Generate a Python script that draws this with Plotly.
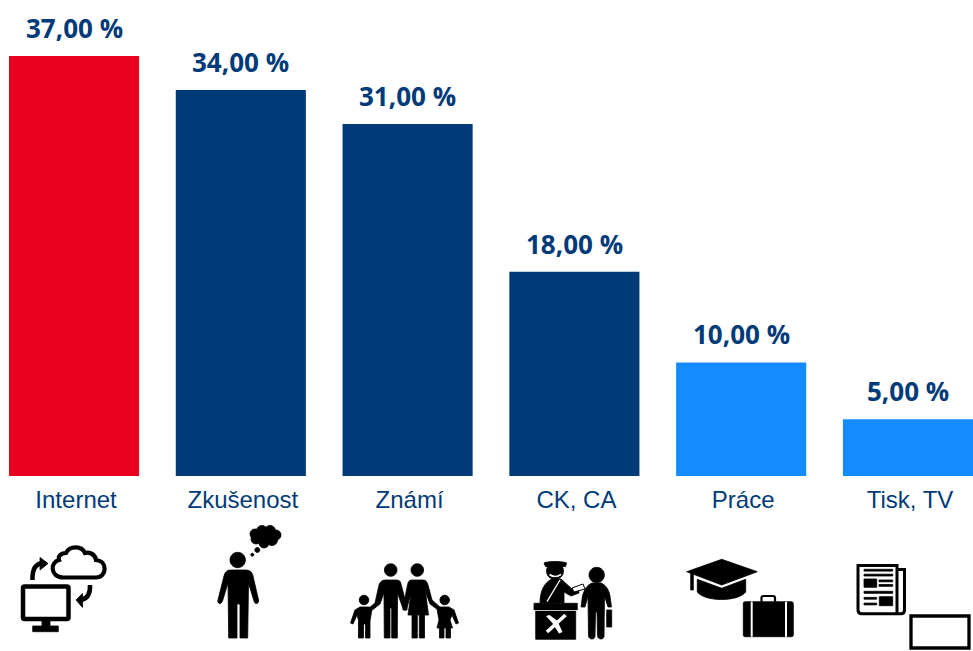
import re
import plotly.graph_objects as go

categories = ["Internet", "Zkušenost", "Známí", "CK, CA", "Práce", "Tisk, TV"]
values = [37, 34, 31, 18, 10, 5]
bar_colors = ["#E8001E", "#003A78", "#003A78", "#003A78", "#148CFF", "#148CFF"]
labels = [f"{v:.2f} %".replace(".", ",") for v in values]

W, H = 973, 651
L, B = 9, 476  # plot area edges in px


def P(d):
    """convert an icon outline written in page px into paper coordinates"""
    out, is_x = [], True
    for tok in re.findall(r"[A-Za-z]|-?\d+\.?\d*", d):
        if tok.isalpha():
            out.append(tok)
            is_x = True
        else:
            v = float(tok)
            out.append(f"{(v - L) / (W - L):.5f}" if is_x else f"{(B - v) / B:.5f}")
            is_x = not is_x
    return " ".join(out)


shapes = []


def fill(d, color="black"):
    shapes.append(dict(type="path", xref="paper", yref="paper", path=P(d), fillcolor=color,
                       line=dict(width=0.8 if color == "black" else 0, color=color), layer="above"))


def stroke(d, width, color="black", fc="rgba(0,0,0,0)"):
    shapes.append(dict(type="path", xref="paper", yref="paper", path=P(d),
                       fillcolor=fc, line=dict(width=width, color=color), layer="above"))


def circle(cx, cy, r, color="black"):
    k = 0.5523 * r
    fill(f"M {cx-r} {cy} C {cx-r} {cy-k} {cx-k} {cy-r} {cx} {cy-r} "
         f"C {cx+k} {cy-r} {cx+r} {cy-k} {cx+r} {cy} "
         f"C {cx+r} {cy+k} {cx+k} {cy+r} {cx} {cy+r} "
         f"C {cx-k} {cy+r} {cx-r} {cy+k} {cx-r} {cy} Z", color)


def rect(x0, y0, x1, y1, color="black"):
    fill(f"M {x0} {y0} L {x1} {y0} L {x1} {y1} L {x0} {y1} Z", color)


# --- Internet icon
stroke("M 23 588 Q 23 586.5 24.5 586.5 L 67 586.5 Q 68.5 586.5 68.5 588 L 68.5 617.5 Q 68.5 619 67 619 L 24.5 619 Q 23 619 23 617.5 Z", 4.5)
rect(42, 621, 50, 627)
rect(32.7, 626, 58.3, 631.7)
stroke("M 63 577.5 L 96 577.5 C 107 577.5 108 561 96 560 C 95 553 88 552 85 553 C 82 546 70 545 66 553 C 60 553 58 557 59 560 C 50 562 50 577 63 577.5 Z", 4.2)
stroke("M 32.5 580 C 32 568 36 564 42 563", 4.5)
fill("M 40 557.5 L 48 563.5 L 40 570 Z")
stroke("M 90 585 C 90.5 595 86 599 81 600", 4.5)
fill("M 82.5 593.5 L 76 600 L 82.5 607.5 Z")

# --- Zkušenost icon
circle(237.7, 560, 7.7)
fill("M 231 570 L 245 570 C 250 570 252 572 253 576 L 258.5 600 C 259 604 255 605 254 601 L 248.5 583 L 247.7 638 L 240 638 L 240 604 L 237 604 L 237 638 L 228.7 638 L 228 583 L 222.5 601 C 221 605 217 604 218 600 L 224 576 C 225 572 227 570 231 570 Z")
for cx, cy, r in [(255, 534, 5), (262, 531, 5.5), (270, 531, 5.5), (276, 535, 5), (272, 540, 5.5),
                  (264, 543, 5), (256, 539, 5), (265, 536, 7)]:
    circle(cx, cy, r)
circle(257.3, 550, 2.5)
circle(252.3, 554.7, 1.5)

# --- Známí icon
for cx, cy, r in [(390.7, 570, 6.3), (417.3, 570, 6.3), (364, 600, 4.8), (444.7, 600, 4.8)]:
    circle(cx, cy, r)
fill("M 385 580 L 396 580 C 399 580 400.5 581 401 584 L 406.5 605 L 407 610 L 403.5 610 L 397.5 593 L 397.3 638 L 391.7 638 L 391.7 608 L 390 608 L 390 638 L 384.3 638 L 384 593 L 380 604 L 371 611 L 369 608 L 375 603 L 379 585 C 380 582 382 580 385 580 Z")
fill("M 412 580 L 423 580 C 426 580 427 582 428 585 L 432 600 L 441 608 L 439.5 611 L 430 604 L 425.5 592 L 428.5 615 L 424.5 615 L 424.5 638 L 419.3 638 L 419.3 615 L 417.3 615 L 417.3 638 L 412 638 L 412 615 L 408 615 L 411 593 L 406.5 610 L 403 610 L 403.5 605 L 407.5 585 C 408 582 409 580 412 580 Z")
fill("M 360 607 L 369 607 L 372 609 L 370 621 L 370 638 L 365.5 638 L 365.5 624 L 363.5 624 L 363.5 638 L 358.5 638 L 358.5 620 L 357 615 L 353 624 L 350.5 623 L 355 610 Z")
fill("M 440 607 L 449 607 L 454 610 L 458.5 623 L 456 624 L 452 615 L 450 620 L 452.5 628 L 450.5 628 L 450.5 638 L 446 638 L 446 628 L 444 628 L 444 638 L 439.5 638 L 439.5 628 L 437 628 L 439 620 L 437 609 Z")

# --- CK, CA icon
circle(555, 571, 8.5)
fill("M 544 563 C 548 561 562 561 566.7 563 L 565.5 566.5 L 545.5 566.5 Z")
stroke("M 549.5 574.5 Q 555 578.5 561 574.5", 1.6, "white")
fill("M 540 603 C 540 590 545 582 552 579 L 561 579 L 572 589 L 578 587 L 579 593 L 571 596 L 564 592 L 564 603 Z")
stroke("M 547 601.6 L 560 580", 1.3, "white")
stroke("M 572 588 L 583 584 L 585 589 L 574 592 Z", 1, "black", "white")
rect(534, 603.3, 577.3, 610)
rect(535.7, 610, 575.7, 639.3)
rect(534, 610, 577.3, 610.8, "white")
stroke("M 547 632 L 565.5 615", 3.6, "white")
fill("M 546 616 L 549.5 615 L 559 622 L 555 626 Z", "white")
fill("M 562.5 632 L 559 633.5 L 553 624 L 557 620 Z", "white")
circle(596.7, 575, 7.7)
fill("M 592 583 L 601 583 C 606 585 609 590 610 596 L 611.5 607 L 608 607 L 604.5 596 L 604 636 C 604 640 598 640 597.5 636 L 597 612 L 595.5 612 L 595 636 C 595 640 589 640 588.5 636 L 588 596 L 585 607 L 581 607 L 582.5 596 C 584 590 587 585 592 583 Z")
rect(606.7, 610, 611.7, 627)

# --- Práce icon
fill("M 686.7 571.7 L 721.7 559.3 L 757.3 571.7 L 721.7 585 Z")
fill("M 697.3 579.3 L 721.7 588.3 L 745.7 579.3 L 745.7 592 C 738 602 705 602 697.3 592 Z")
rect(690.7, 573, 693.3, 590)
stroke("M 761.5 601.7 L 761.5 598 Q 761.5 596 763.5 596 L 773 596 Q 775 596 775 598 L 775 601.7", 2.2)
fill("M 745 601.7 L 791.5 601.7 Q 793.3 601.7 793.3 603.5 L 793.3 635 Q 793.3 636.7 791.5 636.7 L 745 636.7 Q 743.3 636.7 743.3 635 L 743.3 603.5 Q 743.3 601.7 745 601.7 Z")
rect(750.7, 601.7, 752.7, 636.7, "white")
rect(785, 601.7, 787, 636.7, "white")

# --- Tisk, TV icon
stroke("M 897 569.5 L 904.5 569.5 L 904.5 610 Q 904.5 613.7 901 613.7 L 862 613.7 Q 858 613.7 858 610 L 858 565.5 L 897 565.5 L 897 613.7", 3)
for x0, y0, x1, y1 in [(864, 569.3, 892.7, 571.1), (864, 574.2, 892.7, 576), (864, 579, 876.7, 587.3),
                       (879, 580, 892.7, 581.8), (879, 584.5, 892.7, 586.3), (864, 591.3, 892.7, 593.3),
                       (864, 597.4, 876.7, 599.2), (864, 603.1, 876.7, 604.9), (879.3, 596.7, 892.7, 605.7)]:
    rect(x0, y0, x1, y1)
stroke("M 911 616 L 969 616 L 969 648 L 911 648 Z", 3.3, "black", "white")

fig = go.Figure(go.Bar(
    x=categories, y=values, marker=dict(color=bar_colors, line=dict(width=0)),
    cliponaxis=False, hoverinfo="skip",
))

fig.update_layout(
    width=W, height=H, margin=dict(l=L, r=0, t=0, b=H - B, pad=0),
    paper_bgcolor="white", plot_bgcolor="white", bargap=0.22, showlegend=False,
    shapes=shapes,
    annotations=[
        dict(x=c, y=v, text=t, showarrow=False, xanchor="center", yanchor="bottom",
             yshift=9, borderpad=0,
             font=dict(family="Open Sans", size=26, color="#003A78", weight="bold"))
        for c, v, t in zip(categories, values, labels)
    ],
    xaxis=dict(range=[-0.39, 5.39], showgrid=False, zeroline=False, showline=False,
               ticks="", ticklabelstandoff=7, ticklabelshift=2, automargin=False,
               tickfont=dict(family="Liberation Sans", size=24, color="#003A78")),
    yaxis=dict(range=[0, B / (420 / 37)], visible=False, fixedrange=True),
)
fig.write_html("out.html", post_script="document.body.style.margin='0';window.dispatchEvent(new Event('resize'));",
               config=dict(displayModeBar=False))
